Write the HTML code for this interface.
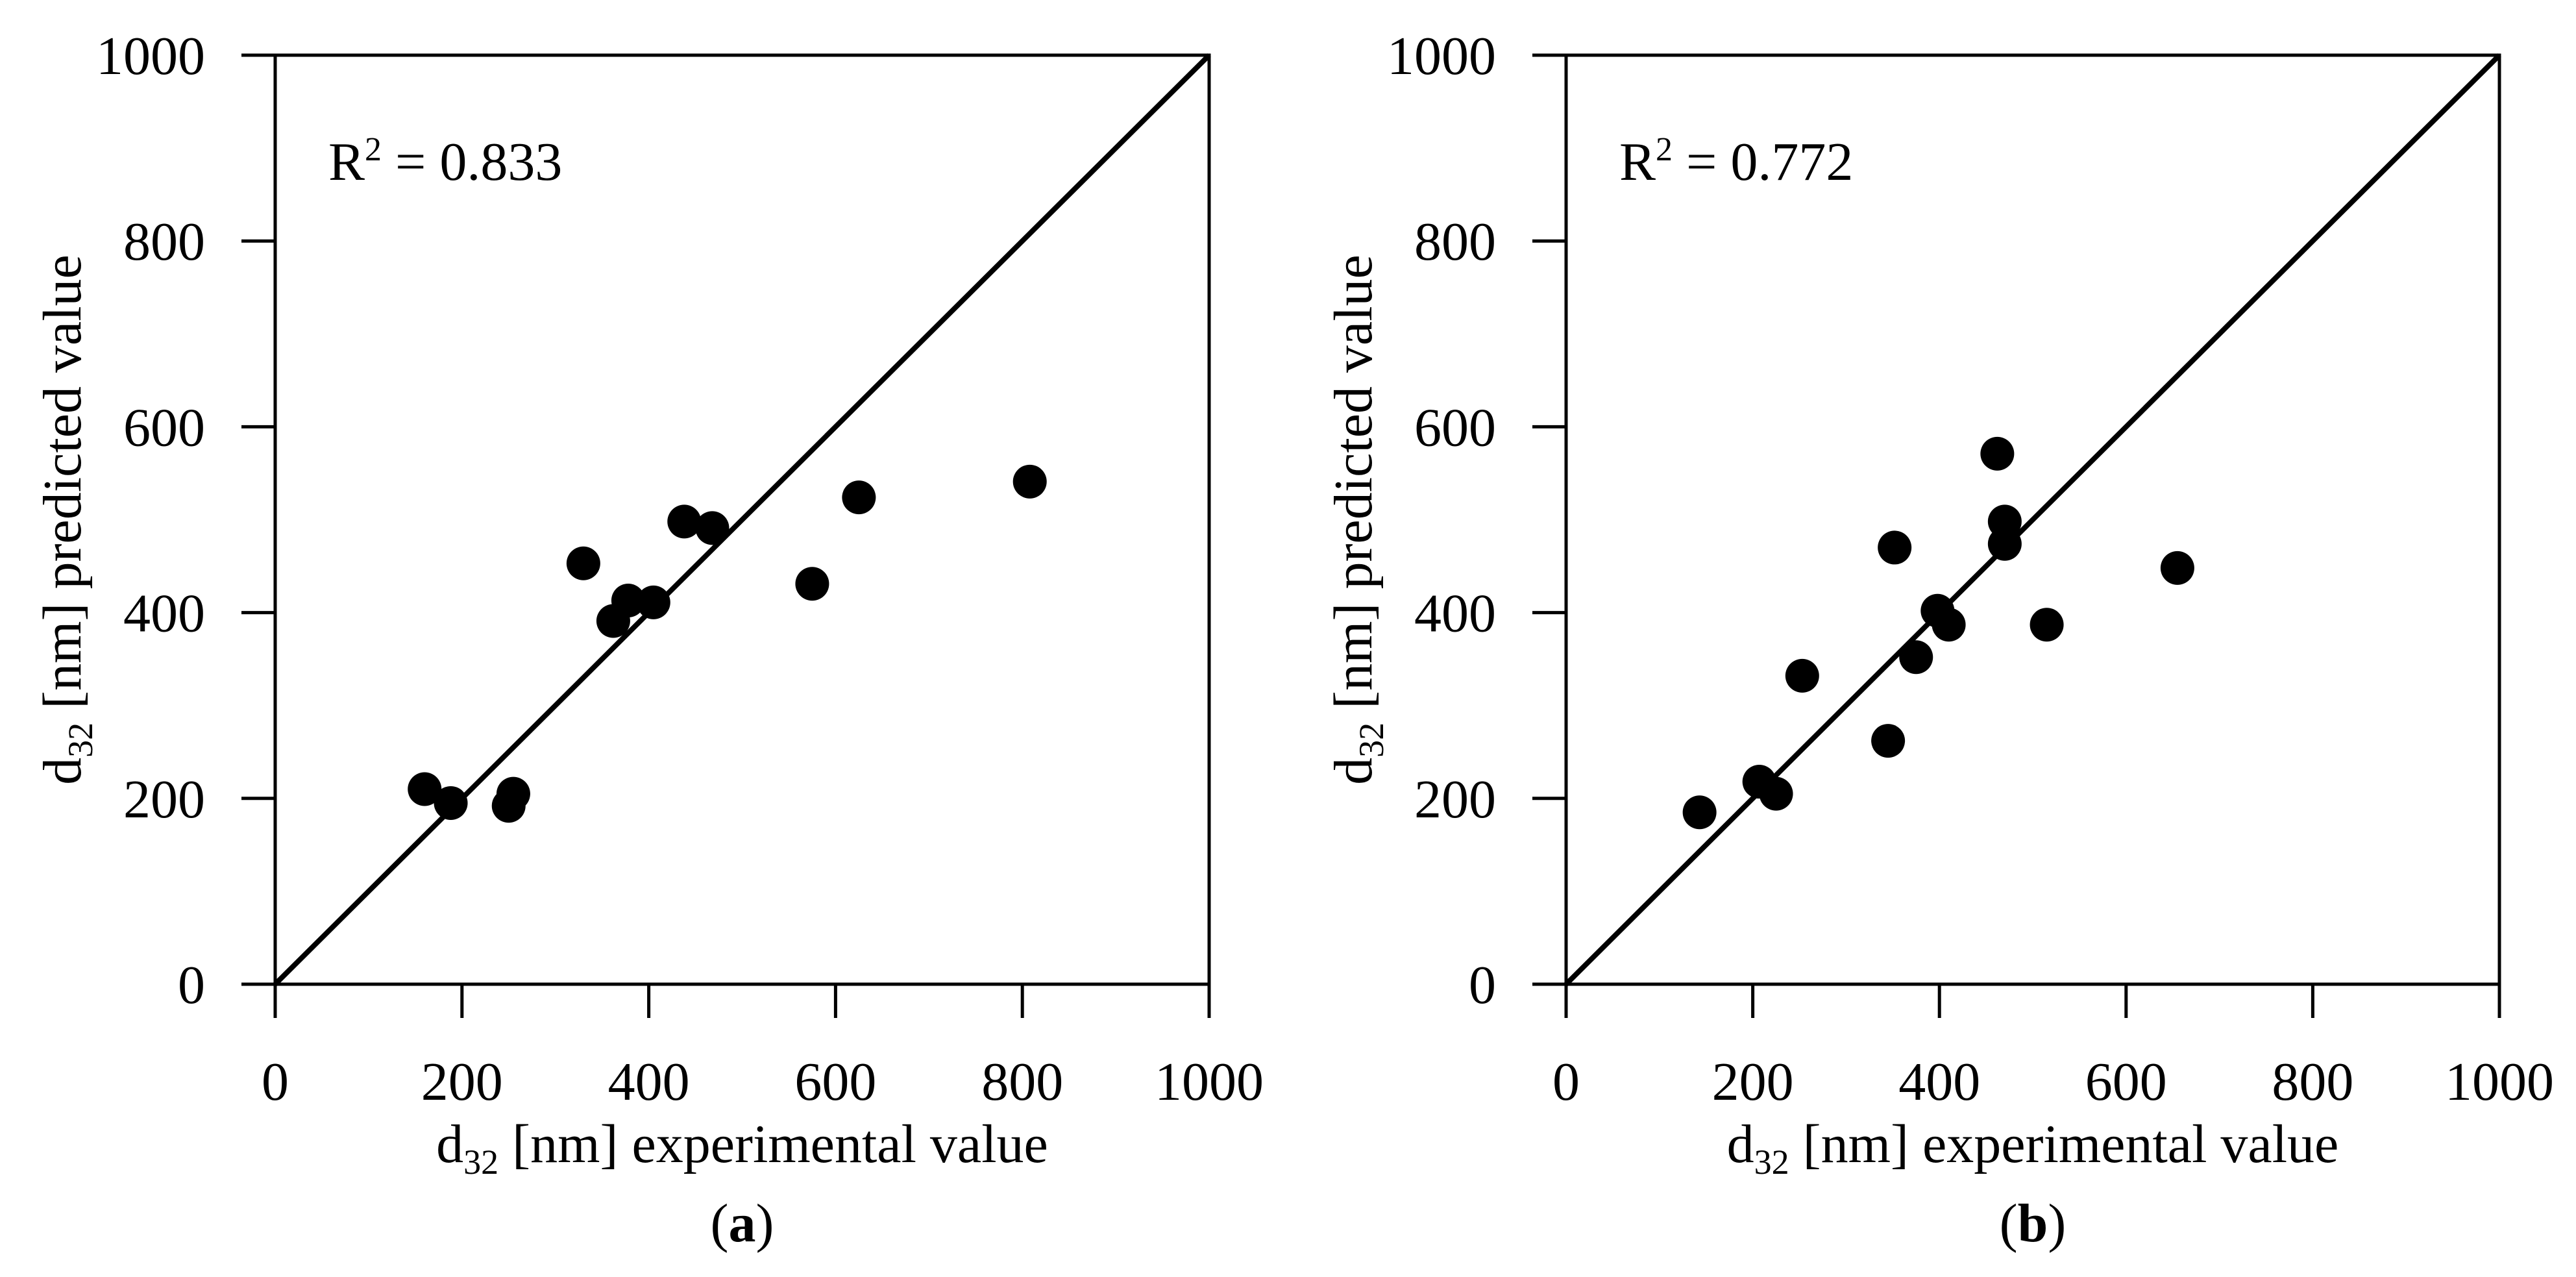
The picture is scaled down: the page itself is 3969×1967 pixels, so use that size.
<!DOCTYPE html>
<html><head><meta charset="utf-8"><style>
html,body{margin:0;padding:0;background:#fff;}
svg{display:block;font-family:"Liberation Serif",serif;}
</style></head><body>
<svg id="chart" width="3969" height="1967" viewBox="0 0 3969 1967" xmlns="http://www.w3.org/2000/svg"></svg>
<script>
const ticks = [0, 200, 400, 600, 800, 1000];
const aX = [160, 188, 250, 255, 330, 362, 378, 405, 438, 468, 575, 625, 808];
const aY = [210, 195, 192, 205, 453, 391, 413, 411, 498, 491, 431, 524, 541];
const bX = [143, 207, 225, 253, 345, 352, 375, 398, 410, 462, 470, 470, 515, 655];
const bY = [185, 218, 205, 332, 262, 470, 352, 402, 387, 571, 498, 474, 387, 448];
const r2Labels = ["0.833", "0.772"];
const panelLabels = ["a", "b"];

const NS = "http://www.w3.org/2000/svg";
const svg = document.getElementById("chart");
function mk(tag, attrs, parent) {
  const e = document.createElementNS(NS, tag);
  for (const k in attrs) e.setAttribute(k, attrs[k]);
  (parent || svg).appendChild(e);
  return e;
}
const panels = [
  {x0: 424, x1: 1863, y0: 1516, y1: 85, xs: aX, ys: aY},
  {x0: 2413, x1: 3851, y0: 1516, y1: 85, xs: bX, ys: bY}
];
panels.forEach((p, i) => {
  const g = mk("g", {});
  
  
  const sx = v => p.x0 + (p.x1 - p.x0) * v / 1000;
  const sy = v => p.y0 - (p.y0 - p.y1) * v / 1000;
  const fr = mk("rect", {x: p.x0, y: p.y1, width: p.x1 - p.x0, height: p.y0 - p.y1, fill: "none", stroke: "#000", "stroke-width": 5}, g);
  
  
  ticks.forEach(t => {
    const yt = mk("line", {x1: p.x0 - 52, x2: p.x0, y1: sy(t), y2: sy(t), stroke: "#000", "stroke-width": 5}, g);
    
    
    const xt = mk("line", {x1: sx(t), x2: sx(t), y1: p.y0, y2: p.y0 + 52, stroke: "#000", "stroke-width": 5}, g);
    
    
    const yl = mk("text", {x: p.x0 - 108, y: sy(t) + 29, "text-anchor": "end", "font-size": 84}, g);
    yl.textContent = t;
    
    
    const xl = mk("text", {x: sx(t), y: p.y0 + 178, "text-anchor": "middle", "font-size": 84}, g);
    xl.textContent = t;
    
    
  });
  const diag = mk("line", {x1: sx(0), y1: sy(0), x2: sx(1000), y2: sy(1000), stroke: "#000", "stroke-width": 8}, g);
  
  
  p.xs.forEach((v, j) => {
    const c = mk("circle", {cx: sx(v), cy: sy(p.ys[j]), r: 26, fill: "#000"}, g);
    
    
  });
  const r2 = mk("text", {x: p.x0 + 82, y: 277, "font-size": 84}, g);
  r2.innerHTML = 'R<tspan font-size="52" dy="-30">2</tspan><tspan dy="30"> = ' + r2Labels[i] + '</tspan>';
  
  
  const cx = (p.x0 + p.x1) / 2;
  const xt = mk("text", {x: cx, y: 1790, "text-anchor": "middle", "font-size": 84}, g);
  xt.innerHTML = 'd<tspan font-size="54" dy="18">32</tspan><tspan dy="-18"> [nm] experimental value</tspan>';
  
  
  const cy = (p.y0 + p.y1) / 2;
  const ytx = p.x0 - 300;
  const yt = mk("text", {x: ytx, y: cy, "text-anchor": "middle", "font-size": 84, transform: "rotate(-90 " + ytx + " " + cy + ")"}, g);
  yt.innerHTML = 'd<tspan font-size="54" dy="18">32</tspan><tspan dy="-18"> [nm] predicted value</tspan>';
  
  
  const pl = mk("text", {x: cx, y: 1912, "text-anchor": "middle", "font-size": 84}, g);
  pl.innerHTML = '(<tspan font-weight="bold">' + panelLabels[i] + '</tspan>)';
  
  
});
</script>
</body></html>
